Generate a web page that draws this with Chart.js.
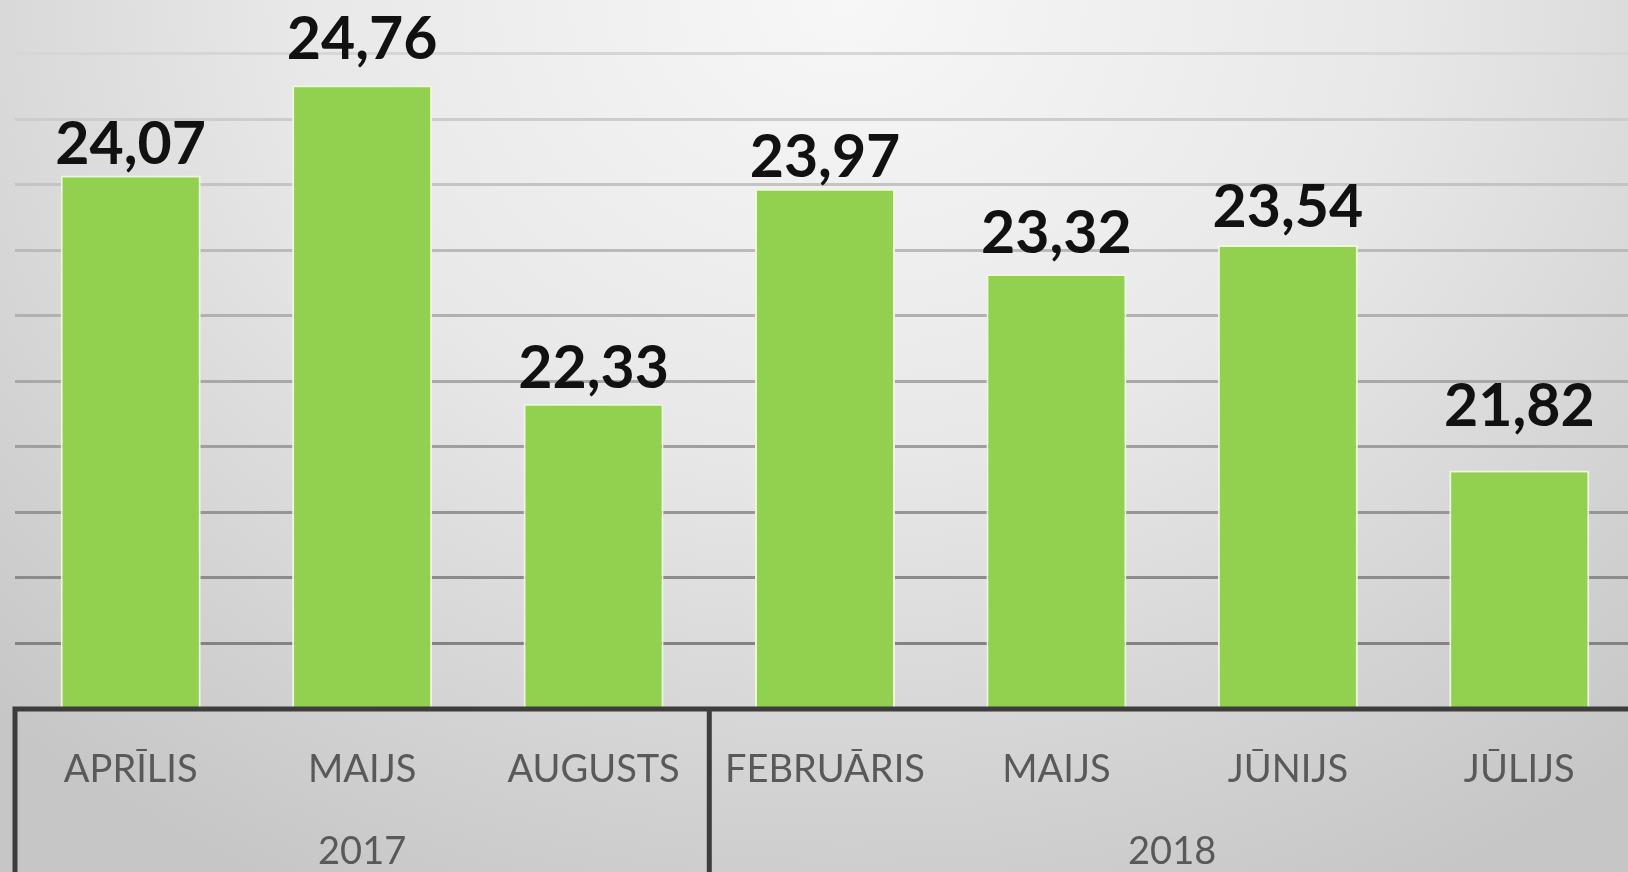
<!DOCTYPE html>
<html>
<head>
<meta charset="utf-8">
<script src="https://cdn.jsdelivr.net/npm/chart.js@4.4.0/dist/chart.umd.min.js"></script>
<style>
html, body {
    margin: 0;
    padding: 0;
    width: 1628px;
    height: 872px;
    overflow: hidden;
    background: radial-gradient(ellipse 75% 115% at 52% 0%, #f7f7f7 0%, #e8e8e8 45%, #d2d2d2 80%, #c6c6c6 100%);
}
#wrap { position: absolute; left: 0; top: 0; width: 1650px; height: 872px; }
</style>
</head>
<body>
<div id="wrap"><canvas id="chart" width="1650" height="872"></canvas></div>
<script>
var months = ['APRĪLIS', 'MAIJS', 'AUGUSTS', 'FEBRUĀRIS', 'MAIJS', 'JŪNIJS', 'JŪLIJS'];
var years = ['2017', '2018'];
var monthsPerYear = [3, 4];
var values = [24.07, 24.76, 22.33, 23.97, 23.32, 23.54, 21.82];
var labelLift = [12, 26, 16, 12, 21, 18, 44]; // px between bar top and its value label

var boxColor = '#3d3d3d';

function gridGray(context) {
    var v = context.tick ? context.tick.value : 20;
    var t = Math.max(0, Math.min(1, (v - 20) / 5));
    var g = Math.round(122 + t * 92);
    return 'rgb(' + g + ',' + g + ',' + g + ')';
}

// value labels, the axis box and the year row
var decor = {
    id: 'decor',
    afterDraw: function(chart) {
        var ctx = chart.ctx;
        var area = chart.chartArea;
        var xs = chart.scales.x;
        var meta = chart.getDatasetMeta(0);
        var step = xs.getPixelForValue(1) - xs.getPixelForValue(0);
        var bottom = chart.height;

        ctx.save();
        ctx.strokeStyle = boxColor;
        ctx.lineWidth = 5;
        ctx.lineCap = 'butt';
        ctx.beginPath();
        ctx.moveTo(area.left, bottom);
        ctx.lineTo(area.left, area.bottom);
        ctx.lineTo(area.right + 20, area.bottom);
        var idx = 0;
        for (var i = 0; i < monthsPerYear.length - 1; i++) {
            idx += monthsPerYear[i];
            var sx = xs.getPixelForValue(idx) - step / 2;
            ctx.moveTo(sx, area.bottom);
            ctx.lineTo(sx, bottom);
        }
        ctx.stroke();

        // years
        ctx.fillStyle = '#595959';
        ctx.font = '38px Lato';
        ctx.textAlign = 'center';
        ctx.textBaseline = 'middle';
        var start = 0;
        for (var j = 0; j < years.length; j++) {
            var first = xs.getPixelForValue(start);
            var last = xs.getPixelForValue(start + monthsPerYear[j] - 1);
            ctx.fillText(years[j], (first + last) / 2, 852);
            start += monthsPerYear[j];
        }

        // values above bars
        ctx.fillStyle = '#111111';
        ctx.font = 'bold 59px Lato';
        ctx.textBaseline = 'alphabetic';
        meta.data.forEach(function(bar, k) {
            ctx.fillText(values[k].toFixed(2).replace('.', ','), bar.x, bar.y - labelLift[k]);
        });
        ctx.restore();
    }
};

new Chart(document.getElementById('chart'), {
    type: 'bar',
    data: {
        labels: months,
        datasets: [{
            data: values,
            backgroundColor: '#92d050',
            borderColor: '#eef7dc',
            borderWidth: 2,
            borderSkipped: 'start',
            categoryPercentage: 1,
            barPercentage: 0.605
        }]
    },
    options: {
        responsive: false,
        animation: false,
        layout: { padding: { left: 15, right: 15, top: 0, bottom: 0 } },
        plugins: {
            legend: { display: false },
            tooltip: { enabled: false }
        },
        scales: {
            x: {
                grid: { display: false },
                border: { display: false },
                ticks: {
                    color: '#595959',
                    font: { family: 'Lato', size: 38 },
                    padding: 30,
                    maxRotation: 0,
                    autoSkip: false
                },
                afterFit: function(scale) { scale.height = 163; }
            },
            y: {
                min: 20,
                max: 25.41,
                border: { display: false },
                ticks: { display: false, stepSize: 0.5 },
                grid: {
                    drawTicks: false,
                    lineWidth: 3,
                    color: gridGray
                },
                afterBuildTicks: function(scale) {
                    scale.ticks = scale.ticks.filter(function(t) {
                        return Math.abs(t.value * 2 - Math.round(t.value * 2)) < 0.001;
                    });
                },
                afterFit: function(scale) { scale.width = 0; }
            }
        }
    },
    plugins: [decor]
});
</script>
</body>
</html>
